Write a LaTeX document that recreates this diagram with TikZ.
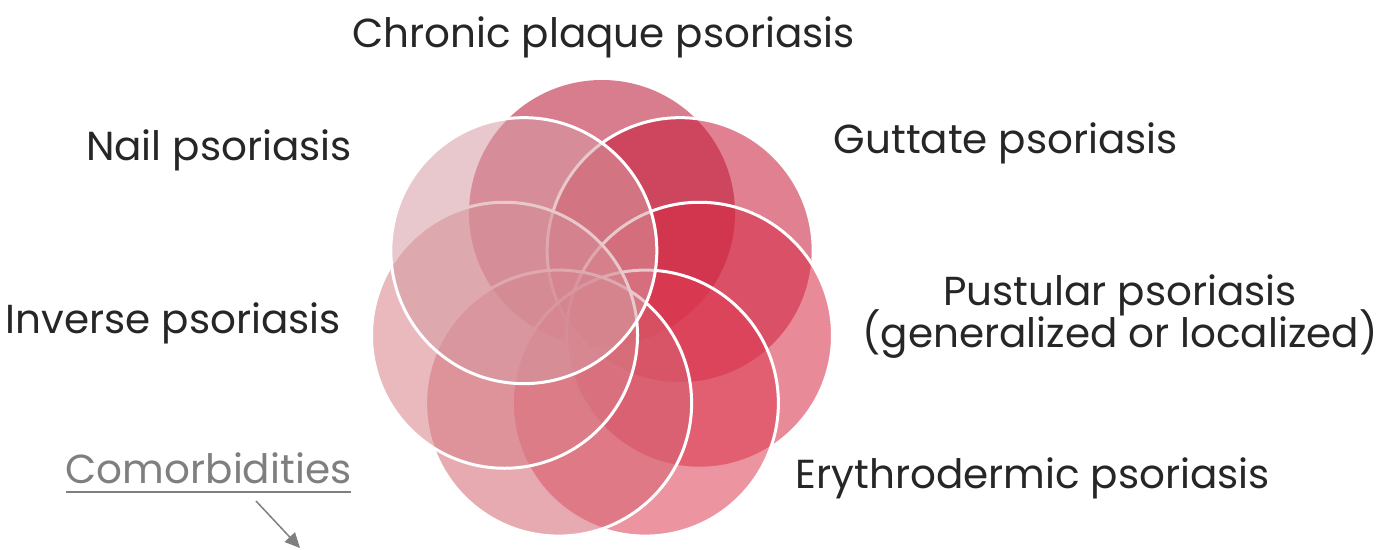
\documentclass[tikz,border=0pt]{standalone}
\usepackage{fontspec}
\setmainfont{Poppins}
\usetikzlibrary{calc,arrows.meta,positioning}

\definecolor{ringA}{RGB}{182,19,50}
\definecolor{ringB}{RGB}{198,24,53}
\definecolor{ringC}{RGB}{215,42,70}
\definecolor{ringD}{RGB}{220,60,82}
\definecolor{ringE}{RGB}{213,100,113}
\definecolor{ringF}{RGB}{215,128,137}
\definecolor{ringG}{RGB}{213,155,162}
\definecolor{typegray}{RGB}{38,38,38}
\definecolor{comorbgray}{RGB}{127,127,127}

\tikzstyle{typetext} = [text=typegray, inner sep=0pt, anchor=base, font=\fontsize{40.5}{42}\selectfont]
\tikzstyle{ringfill} = [fill opacity=0.55]
\tikzstyle{comarrow} = [comorbgray, line width=1.5pt, -{Triangle[length=15pt,width=14pt]}]

\begin{document}
\begin{tikzpicture}[x=1pt,y=-1pt]

    \useasboundingbox (0,0) rectangle (1384,549);

    % seven circles, clockwise from the top; the first has no white rim
    \foreach \i/\col/\rim [evaluate=\i as \a using 90-\i*360/7] in
        {0/ringA/none, 1/ringB/white, 2/ringC/white, 3/ringD/white,
         4/ringE/white, 5/ringF/white, 6/ringG/white}
    {
        \coordinate (c\i) at ({602+100*cos(\a)},{313-100*sin(\a)});
        \fill[\col, ringfill] (c\i) circle[radius=133pt];
        \draw[draw=\rim, line width=3pt] (c\i) circle[radius=133pt];
    }

    \node[typetext] (chronic) at (603.5,47) {Chronic plaque psoriasis};
    \node[typetext] (guttate) at (1006,153) {Guttate psoriasis};
    \node[typetext] (pustular) at (1120,305) {Pustular psoriasis};
    \node[typetext] (pustular form) at (1120,347) {(generalized or localized)};
    \node[typetext] (erythro) at (1033,488) {Erythrodermic psoriasis};
    \node[typetext] (nail) at (219,160) {Nail psoriasis};
    \node[typetext] (inverse) at (173.5,333) {Inverse psoriasis};
    \node[typetext, text=comorbgray] (comorb) at (208.5,483) {Comorbidities};

    %underline and arrow
    \draw[comorbgray, line width=2pt] ($(comorb.base west)+(0,9)$) -- ($(comorb.base east)+(0,9)$);
    \coordinate (comorb tail) at (256,501);
    \coordinate (comorb tip) at (300,548);
    \draw[comarrow] (comorb tail) -- (comorb tip);

\end{tikzpicture}
\end{document}
